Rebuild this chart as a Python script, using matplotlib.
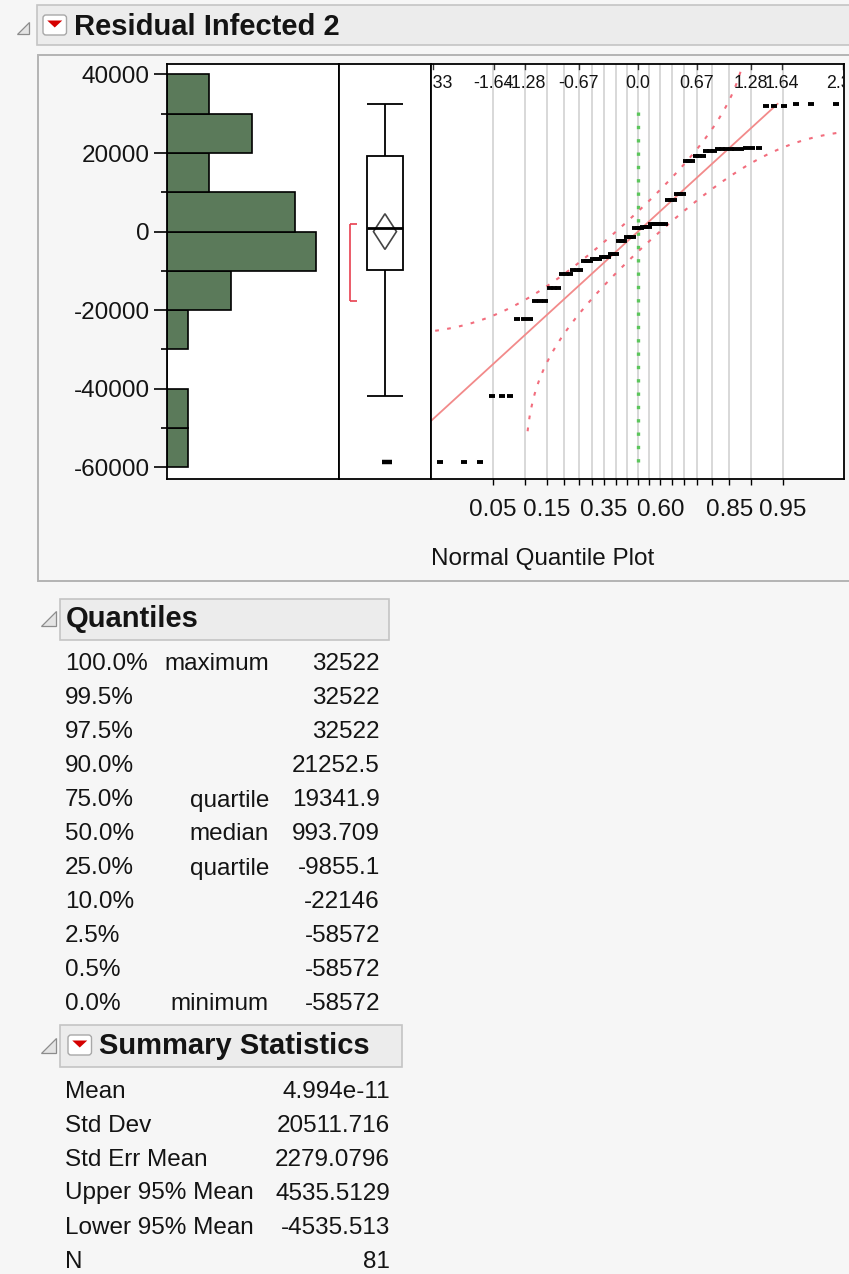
import numpy as np
import matplotlib
matplotlib.use('Agg')
import matplotlib.pyplot as plt
from matplotlib.patches import Rectangle, Polygon, FancyBboxPatch
from matplotlib.transforms import blended_transform_factory
from statistics import NormalDist

plt.rcParams['font.family'] = ['Liberation Sans', 'DejaVu Sans']

# ---------------- data ----------------
residuals = [
    -58572, -58572, -58572,
    -41900, -41900, -41900,
    -22146, -22146, -22146,
    -17760, -17760, -17760,
    -14250, -14250, -14250,
    -10700, -10700, -10700,
    -9855.1, -9855.1, -9855.1,
    -7550, -7550, -7550,
    -6860, -6860, -6860,
    -6450, -6450, -6450,
    -5590, -5590, -5590,
    -2450, -2450, -2450,
    -1360, -1360, -1360,
    993.709, 993.709, 993.709,
    1200, 1200, 1200,
    1900, 1900, 1900,
    2050, 2050, 2050,
    8150, 8150, 8150,
    9680, 9680, 9680,
    17900, 17900, 17900,
    19341.9, 19341.9, 19341.9,
    20450, 20450, 20450,
    20950, 20950, 20950,
    21150, 21150, 21150,
    21252.5, 21252.5, 21252.5,
    32100, 32100, 32100,
    32522, 32522, 32522,
]

quantile_levels = ["100.0%", "99.5%", "97.5%", "90.0%", "75.0%", "50.0%",
                   "25.0%", "10.0%", "2.5%", "0.5%", "0.0%"]
quantile_names = ["maximum", "", "", "", "quartile", "median",
                  "quartile", "", "", "", "minimum"]
quantile_values = ["32522", "32522", "32522", "21252.5", "19341.9", "993.709",
                   "-9855.1", "-22146", "-58572", "-58572", "-58572"]
q1_value = -9855.1
median_value = 993.709
q3_value = 19341.9

stat_names = ["Mean", "Std Dev", "Std Err Mean", "Upper 95% Mean",
              "Lower 95% Mean", "N"]
stat_values = ["4.994e-11", "20511.716", "2279.0796", "4535.5129",
               "-4535.513", "81"]
mean_value = 4.994e-11
sd_value = 20511.716
upper95 = 4535.5129
lower95 = -4535.513

hist_bin_edges = list(range(-60000, 40001, 10000))
y_tick_values = [-60000, -40000, -20000, 0, 20000, 40000]
prob_ticks = [0.05, 0.10, 0.15, 0.20, 0.25, 0.30, 0.35, 0.40, 0.45, 0.50,
              0.55, 0.60, 0.65, 0.70, 0.75, 0.80, 0.85, 0.90, 0.95]
prob_labels_shown = ["0.05", "0.15", "0.35", "0.60", "0.85", "0.95"]
top_z_values = [-2.33, -1.64, -1.28, -0.67, 0.0, 0.67, 1.28, 1.64, 2.33]
top_z_labels = ["-2.33", "-1.64", "-1.28", "-0.67", "0.0", "0.67", "1.28", "1.64", "2.33"]

# ---------------- layout ----------------
W, H = 849, 1274
BG = '#f6f6f6'
HDR = '#ececec'
HDR_EDGE = '#c4c4c4'
FS = 17.5
FS_T = 21
TXT = '#141414'

fig = plt.figure(figsize=(W / 100, H / 100), dpi=100)
fig.patch.set_facecolor(BG)


def ax_rect(l, t, r, b):
    return [l / W, 1 - b / H, (r - l) / W, (b - t) / H]


bg = fig.add_axes([0, 0, 1, 1])
bg.set_xlim(0, W)
bg.set_ylim(H, 0)
bg.axis('off')


def disclosure(x0, y0, s):
    bg.add_patch(Polygon([(x0, y0 + s), (x0 + s, y0 + s), (x0 + s, y0)], closed=True,
                         facecolor='#e4e4e4', edgecolor='#8c8c8c', lw=0.9))


def red_icon(x0, y0, w, h):
    bg.add_patch(FancyBboxPatch((x0, y0), w, h, boxstyle='round,pad=0,rounding_size=3',
                                facecolor='white', edgecolor='#a8a8a8', lw=1.0))
    cx = x0 + w / 2
    bg.add_patch(Polygon([(cx - 7.5, y0 + 5.5), (cx + 7.5, y0 + 5.5), (cx, y0 + 12.5)],
                         closed=True, facecolor='#d40000', edgecolor='none'))


# top header
bg.add_patch(Rectangle((37, 5), 830, 40, facecolor=HDR, edgecolor=HDR_EDGE, lw=1.2))
disclosure(17, 22, 12)
red_icon(43, 15, 23.5, 20)
bg.text(74, 35, "Residual Infected 2", fontsize=FS_T, fontweight='bold',
        ha='left', va='baseline', color=TXT)

# panel outline
bg.add_patch(Rectangle((38, 55), 830, 526, facecolor=BG, edgecolor='#b4b4b4', lw=1.4))

bg.text(431, 565, "Normal Quantile Plot", fontsize=FS, ha='left', va='baseline', color=TXT)

# Quantiles section
bg.add_patch(Rectangle((60, 599), 329, 41, facecolor=HDR, edgecolor=HDR_EDGE, lw=1.2))
disclosure(41, 611, 15)
bg.text(66, 627, "Quantiles", fontsize=FS_T, fontweight='bold', ha='left', va='baseline',
        color=TXT)
for k, (lv, nm, val) in enumerate(zip(quantile_levels, quantile_names, quantile_values)):
    yb = 662 + 34 * k + 8.5
    bg.text(65, yb, lv, fontsize=FS, ha='left', va='baseline', color=TXT)
    if nm:
        bg.text(269, yb, nm, fontsize=FS, ha='right', va='baseline', color=TXT)
    bg.text(380, yb, val, fontsize=FS, ha='right', va='baseline', color=TXT)

# Summary statistics section
bg.add_patch(Rectangle((60, 1025), 342, 42, facecolor=HDR, edgecolor=HDR_EDGE, lw=1.2))
disclosure(41, 1038, 15)
red_icon(68, 1035, 23.5, 20)
bg.text(99, 1054, "Summary Statistics", fontsize=FS_T, fontweight='bold', ha='left',
        va='baseline', color=TXT)
for k, (nm, val) in enumerate(zip(stat_names, stat_values)):
    yb = 1089 + 34 * k + 8.5
    bg.text(65, yb, nm, fontsize=FS, ha='left', va='baseline', color=TXT)
    bg.text(390, yb, val, fontsize=FS, ha='right', va='baseline', color=TXT)

# ---------------- plots ----------------
Y_LIM = (-63000, 42800)
data = np.sort(np.array(residuals, dtype=float))
n = len(data)


def style_spines(ax):
    for s in ax.spines.values():
        s.set_linewidth(1.3)
        s.set_color('black')


# Histogram
axh = fig.add_axes(ax_rect(166.5, 63.5, 338.5, 479))
counts, edges = np.histogram(data, bins=hist_bin_edges)
axh.barh(edges[:-1], counts, height=np.diff(edges), align='edge',
         color='#5b7a5a', edgecolor='black', linewidth=1.2)
axh.set_xlim(0, 24.1)
axh.set_ylim(*Y_LIM)
axh.set_yticks(y_tick_values)
axh.set_yticklabels([str(v) for v in y_tick_values])
axh.set_yticks([v + 10000 for v in y_tick_values[:-1]], minor=True)
axh.set_xticks([])
axh.tick_params(axis='y', which='major', length=9.5, width=1.2, labelsize=FS, pad=2.5,
                labelcolor=TXT)
axh.tick_params(axis='y', which='minor', length=4.5, width=1.2)
style_spines(axh)

# Box plot
axb = fig.add_axes(ax_rect(338.5, 63.5, 430.5, 479))
axb.set_xlim(0, 1)
axb.set_ylim(*Y_LIM)
axb.set_xticks([])
axb.set_yticks([])
style_spines(axb)
bc, bw, dw = 0.505, 0.196, 0.125
iqr = q3_value - q1_value
lo_whisk = data[data >= q1_value - 1.5 * iqr].min()
hi_whisk = data[data <= q3_value + 1.5 * iqr].max()
axb.add_patch(Rectangle((bc - bw, q1_value), 2 * bw, q3_value - q1_value,
                        facecolor='none', edgecolor='black', lw=1.3))
axb.hlines(median_value, bc - bw, bc + bw, color='black', lw=2.0)
axb.vlines(bc, q3_value, hi_whisk, color='black', lw=1.3)
axb.vlines(bc, lo_whisk, q1_value, color='black', lw=1.3)
axb.hlines([hi_whisk, lo_whisk], bc - bw, bc + bw, color='black', lw=1.3)
outl = data[(data < lo_whisk) | (data > hi_whisk)]
axb.plot(np.full(len(outl), bc + 0.02), outl, ls='none', marker='_', ms=7, mew=3,
         color='black')
axb.add_patch(Polygon([(bc, upper95), (bc + dw, mean_value), (bc, lower95),
                       (bc - dw, mean_value)], closed=True, facecolor='none',
                      edgecolor='#444444', lw=1.2))
# shortest half
k_half = n // 2 + 1
widths = data[k_half - 1:] - data[:n - k_half + 1]
i0 = int(np.argmin(widths))
sh_lo, sh_hi = data[i0], data[i0 + k_half - 1]
bx, cap = 0.125, 0.075
axb.vlines(bx, sh_lo, sh_hi, color='#e8404f', lw=1.2)
axb.hlines([sh_lo, sh_hi], bx, bx + cap, color='#e8404f', lw=1.2)

# Normal quantile plot
nd = NormalDist()
axq = fig.add_axes(ax_rect(430.5, 63.5, 844, 479))
axq.set_xlim(-2.356, 2.340)
axq.set_ylim(*Y_LIM)
z_ticks = [nd.inv_cdf(p) for p in prob_ticks]
for z in z_ticks:
    axq.axvline(z, color='#d8d8d8', lw=1.4, zorder=0)
axq.set_xticks(z_ticks)
axq.set_xticklabels([f"{p:.2f}" if f"{p:.2f}" in prob_labels_shown else "" for p in prob_ticks])
axq.set_yticks([])
axq.tick_params(axis='x', length=4, width=1.0, labelsize=FS, pad=10.5, labelcolor=TXT)
style_spines(axq)

trans = blended_transform_factory(axq.transData, axq.transAxes)
for z, lab in zip(top_z_values, top_z_labels):
    axq.plot([z, z], [1 - 5 / 415.5, 1], transform=trans, color='#333333', lw=1.0,
             clip_on=False)
    axq.text(z, 0.953, lab, transform=trans, ha='center', va='center', fontsize=12.8,
             clip_on=True, color=TXT)

# green reference
axq.vlines(0, data.min(), data.max(), color='#5cc65c', lw=2.4, linestyle=(0, (1, 3)))

# fitted line
z0, z1 = (data.min() - mean_value) / sd_value, (data.max() - mean_value) / sd_value
axq.plot([z0, z1], [mean_value + sd_value * z0, mean_value + sd_value * z1],
         color='#f28a8a', lw=1.3)

# Lilliefors confidence bands
D = 0.886 / np.sqrt(n)
p_lo = np.linspace(D + 0.0066, 0.995, 400)
axq.plot([nd.inv_cdf(p) for p in p_lo],
         [mean_value + sd_value * nd.inv_cdf(p - D) for p in p_lo],
         color='#f26d7d', lw=1.5, linestyle=(0, (1.8, 4)))
p_up = np.linspace(0.005, 1 - D - 0.0066, 400)
axq.plot([nd.inv_cdf(p) for p in p_up],
         [mean_value + sd_value * nd.inv_cdf(p + D) for p in p_up],
         color='#f26d7d', lw=1.5, linestyle=(0, (1.8, 4)))

# data points
zq = [nd.inv_cdf(i / (n + 1)) for i in range(1, n + 1)]
axq.plot(zq, data, ls='none', marker='_', ms=4.8, mew=2.8, color='black', zorder=5)

fig.savefig('out.png', dpi=100, facecolor=fig.get_facecolor())
